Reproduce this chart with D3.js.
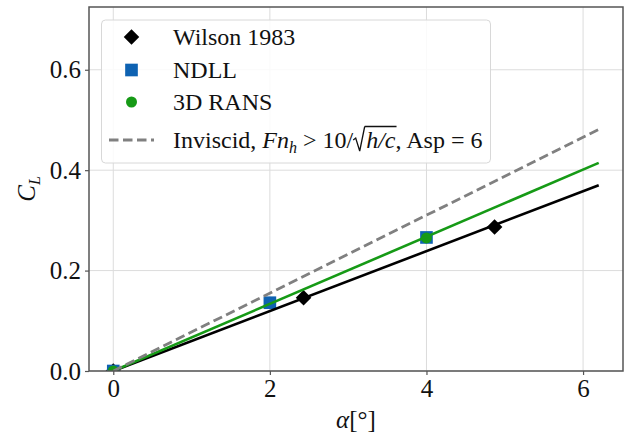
<!DOCTYPE html>
<html>
<head>
<meta charset="utf-8">
<script src="https://cdn.jsdelivr.net/npm/d3@7"></script>
<style>
  body { margin: 0; background: #fff; }
  svg text { font-family: "Liberation Serif", "DejaVu Serif", serif; fill: #111; white-space: pre; }
</style>
</head>
<body>
<svg id="chart" width="629" height="435"></svg>
<script>
// values
var xTicks = [0, 2, 4, 6];
var yTicks = [0.0, 0.2, 0.4, 0.6];
var wilsonAlpha = [0, 2.43, 4.87];
var wilsonCL = [0, 0.146, 0.287];
var ndllAlpha = [0, 2, 4];
var ndllCL = [0, 0.136, 0.266];
var ransAlpha = [0, 4];
var ransCL = [0, 0.265];
var lineAlpha = [0, 6.2];
var wilsonFitCL = [0, 0.370];
var ransFitCL = [0, 0.4145];
var inviscidCL = [0, 0.481];

var W = 629, H = 435;
var margin = {top: 7, right: 6, bottom: 64, left: 89};
var svg = d3.select("#chart");

var x = d3.scaleLinear().domain([-0.31, 6.51]).range([margin.left, W - margin.right]);
var y = d3.scaleLinear().domain([0, 0.725]).range([H - margin.bottom, margin.top]);

svg.append("defs").append("clipPath").attr("id", "clip")
  .append("rect")
  .attr("x", margin.left).attr("y", margin.top)
  .attr("width", W - margin.left - margin.right)
  .attr("height", H - margin.top - margin.bottom);

// grid
var grid = svg.append("g").attr("class", "grid");
grid.selectAll("line.gx").data(xTicks).enter().append("line")
  .attr("x1", function(d){ return x(d); }).attr("x2", function(d){ return x(d); })
  .attr("y1", margin.top).attr("y2", H - margin.bottom)
  .attr("stroke", "#dcdcdc").attr("stroke-width", 1);
grid.selectAll("line.gy").data(yTicks).enter().append("line")
  .attr("y1", function(d){ return y(d); }).attr("y2", function(d){ return y(d); })
  .attr("x1", margin.left).attr("x2", W - margin.right)
  .attr("stroke", "#dcdcdc").attr("stroke-width", 1);

var plot = svg.append("g").attr("clip-path", "url(#clip)");

function pts(xs, ys) { return xs.map(function(v, i){ return [v, ys[i]]; }); }

var diamond = d3.symbol().type(d3.symbolSquare).size(121);
var square = d3.symbol().type(d3.symbolSquare).size(160);
var circle = d3.symbol().type(d3.symbolCircle).size(95);

var blue = "#0e62b2", green = "#169a16";

plot.selectAll("path.wil").data(pts(wilsonAlpha, wilsonCL)).enter().append("path")
  .attr("d", diamond)
  .attr("transform", function(d){ return "translate(" + x(d[0]) + "," + y(d[1]) + ") rotate(45)"; })
  .attr("fill", "#000");
plot.selectAll("path.nd").data(pts(ndllAlpha, ndllCL)).enter().append("path")
  .attr("d", square)
  .attr("transform", function(d){ return "translate(" + x(d[0]) + "," + y(d[1]) + ")"; })
  .attr("fill", blue);
plot.selectAll("path.ra").data(pts(ransAlpha, ransCL)).enter().append("path")
  .attr("d", circle)
  .attr("transform", function(d){ return "translate(" + x(d[0]) + "," + y(d[1]) + ")"; })
  .attr("fill", green);

var line = d3.line().x(function(d){ return x(d[0]); }).y(function(d){ return y(d[1]); });
plot.append("path").datum(pts(lineAlpha, wilsonFitCL)).attr("d", line)
  .attr("fill", "none").attr("stroke", "#000").attr("stroke-width", 2.6);
plot.append("path").datum(pts(lineAlpha, ransFitCL)).attr("d", line)
  .attr("fill", "none").attr("stroke", green).attr("stroke-width", 2.6);
plot.append("path").datum(pts(lineAlpha, inviscidCL)).attr("d", line)
  .attr("fill", "none").attr("stroke", "#808080").attr("stroke-width", 2.8)
  .attr("stroke-dasharray", "9.5,4.5");

// axes
var fmt = d3.format(".1f");
var xAxis = svg.append("g").attr("transform", "translate(0," + (H - margin.bottom) + ")")
  .call(d3.axisBottom(x).tickValues(xTicks).tickFormat(d3.format("d")).tickSize(4).tickPadding(4));
var yAxis = svg.append("g").attr("transform", "translate(" + margin.left + ",0)")
  .call(d3.axisLeft(y).tickValues(yTicks).tickFormat(fmt).tickSize(4).tickPadding(4));
[xAxis, yAxis].forEach(function(a){
  a.select(".domain").remove();
  a.selectAll("line").attr("stroke", "#555").attr("stroke-width", 1.2);
  a.selectAll("text").attr("font-size", 25).attr("font-family", "Liberation Serif").attr("fill", "#111");
});

// frame
svg.append("rect")
  .attr("x", margin.left).attr("y", margin.top)
  .attr("width", W - margin.left - margin.right)
  .attr("height", H - margin.top - margin.bottom)
  .attr("fill", "none").attr("stroke", "#555").attr("stroke-width", 1.5);

// axis labels
svg.append("text").attr("x", (margin.left + W - margin.right) / 2).attr("y", 428)
  .attr("text-anchor", "middle").attr("font-size", 25)
  .html('<tspan font-style="italic">α</tspan>[°]');
var cl = svg.append("text").attr("transform", "translate(35,189) rotate(-90)")
  .attr("text-anchor", "middle").attr("font-size", 25);
cl.append("tspan").attr("font-style", "italic").text("C");
cl.append("tspan").attr("font-style", "italic").attr("font-size", 16).attr("dy", 5).text("L");

// legend
var lg = svg.append("g");
lg.append("rect").attr("x", 101.5).attr("y", 20).attr("width", 389).attr("height", 143)
  .attr("rx", 4).attr("fill", "#fff").attr("fill-opacity", 0.85)
  .attr("stroke", "#d8d8d8").attr("stroke-width", 1);
var rows = [37, 70, 102, 140];
var mx = 131.5, tx = 173;
lg.append("path").attr("d", diamond).attr("transform", "translate(" + mx + "," + rows[0] + ") rotate(45)").attr("fill", "#000");
lg.append("path").attr("d", square).attr("transform", "translate(" + mx + "," + rows[1] + ")").attr("fill", blue);
lg.append("path").attr("d", circle).attr("transform", "translate(" + mx + "," + rows[2] + ")").attr("fill", green);
lg.append("line").attr("x1", 109).attr("x2", 154).attr("y1", rows[3]).attr("y2", rows[3])
  .attr("stroke", "#808080").attr("stroke-width", 2.8).attr("stroke-dasharray", "9.5,4.5");

var labels = ["Wilson 1983", "NDLL", "3D RANS"];
labels.forEach(function(t, i){
  lg.append("text").attr("x", tx).attr("y", rows[i] + 8).attr("font-size", 24).text(t);
});

// inviscid label built from pieces
var pieces = [
  {t: "Inviscid, ", it: false},
  {t: "Fn", it: true},
  {t: "h", it: true, sub: true},
  {t: " > 10/", it: false},
  {t: "", rad: true},
  {t: "h/c", it: true, bar: true},
  {t: ", Asp = 6", it: false}
];
var cx = tx, base = rows[3] + 8;
pieces.forEach(function(p){
  if (p.rad) {
    lg.append("path")
      .attr("d", "M" + cx + "," + (base - 8) + "l2.5,-2l4,13l5,-24.5")
      .attr("fill", "none").attr("stroke", "#111").attr("stroke-width", 1.3);
    cx += 13;
    return;
  }
  var el = lg.append("text").attr("x", cx).attr("y", base + (p.sub ? 5 : 0))
    .attr("font-size", p.sub ? 16 : 24)
    .attr("font-style", p.it ? "italic" : "normal")
    .text(p.t);
  var w = el.node().getComputedTextLength();
  if (p.bar) {
    lg.append("line").attr("x1", cx - 1.5).attr("x2", cx + w + 1)
      .attr("y1", base - 21.5).attr("y2", base - 21.5)
      .attr("stroke", "#111").attr("stroke-width", 1.3);
  }
  cx += w;
});
</script>
</body>
</html>
